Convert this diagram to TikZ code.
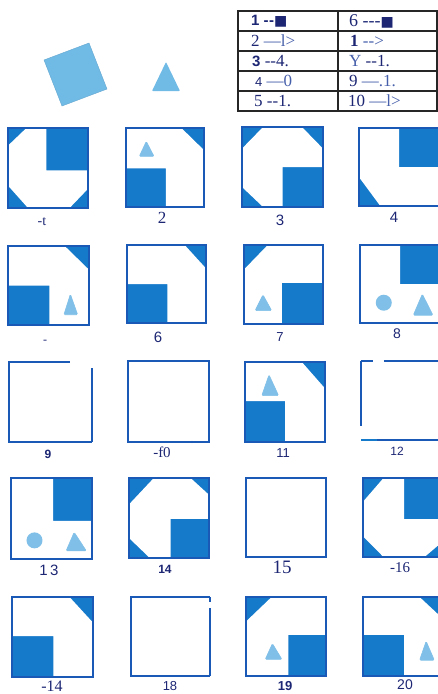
\documentclass[tikz,border=0pt]{standalone}
\usepackage{fontspec}
\setmainfont{Liberation Serif}[Ligatures=TeXOff]
\newfontfamily\sansf{Liberation Sans}[Ligatures=TeXOff]
\newfontfamily\symf{DejaVu Sans}[Ligatures=TeXOff]
\definecolor{pblue}{RGB}{22,122,202}
\definecolor{pedge}{RGB}{26,90,182}
\definecolor{plight}{RGB}{128,192,232}
\definecolor{pbig}{RGB}{112,186,230}
\definecolor{navy}{RGB}{28,38,115}
\definecolor{lnavy}{RGB}{70,95,170}
\begin{document}
\begin{tikzpicture}[x=1pt,y=-1pt,
  lightshape/.style={fill=plight,draw=plight,line width=0.6pt,rounded corners=1.2pt},
  frame/.style={draw=pedge,line width=1.8pt},
  thinframe/.style={draw=pedge,line width=1.2pt},
  lbl/.style={text=navy,inner sep=0pt},
  tcell/.style={text=navy,inner sep=0pt,anchor=west},
  grid/.style={draw=black!85,line width=1.4pt}]
\useasboundingbox (0,0) rectangle (438,694);
\clip (0,0) rectangle (438,694);

% top-left shapes
\fill[pbig,draw=pbig!90!black,line width=0.4pt] (44,60) -- (89,43) -- (107,89) -- (62,106) -- cycle;
\fill[pbig,rounded corners=0.8pt] (166,62) -- (152,91) -- (180,91) -- cycle;

% table
\draw[grid,line width=1.8pt] (238,11) rectangle (437,111);
\draw[grid] (338,11) -- (338,111);
\foreach \yy in {31,51,71,91} \draw[grid] (238,\yy) -- (437,\yy);
\node[tcell] (t1) at (251,21) {\fontsize{15}{15}\selectfont{\sansf\bfseries 1 -\kern0.5pt-}{\symf\fontsize{14}{14}\selectfont ■}};
\node[tcell] (t2) at (251,41) {\fontsize{17}{17}\selectfont 2 \textcolor{lnavy}{—l>}};
\node[tcell] (t3) at (252,61) {\fontsize{17}{17}\selectfont{\sansf\bfseries\fontsize{15}{15}\selectfont 3} --4.};
\node[tcell] (t4) at (255,81) {\fontsize{17}{17}\selectfont{\sansf\fontsize{13}{13}\selectfont 4} \textcolor{lnavy}{—0}};
\node[tcell] (t5) at (254,101) {\fontsize{17}{17}\selectfont 5 --1.};
\node[tcell] (t6) at (349,21) {\fontsize{18}{18}\selectfont 6 ---{\symf\fontsize{14}{14}\selectfont ■}};
\node[tcell] (t7) at (350,41) {\fontsize{17}{17}\selectfont\textbf{1} \textcolor{lnavy}{-->}};
\node[tcell] (t8) at (349,61) {\fontsize{17}{17}\selectfont\textcolor{lnavy}{Y} --1.};
\node[tcell] (t9) at (349,81) {\fontsize{17}{17}\selectfont 9 \textcolor{lnavy}{—.1.}};
\node[tcell] (t10) at (348,101) {\fontsize{17}{17}\selectfont 10 \textcolor{lnavy}{—l>}};

% ---------- row 1
\begin{scope}[shift={(8pt,-128pt)},x=80pt,y=-80pt]
\fill[pblue] (0,0) rectangle (1,1);
\fill[white] (0.23,0) -- (0.48,0) -- (0.48,0.53) -- (1,0.53) -- (1,0.76) -- (0.77,1) -- (0.25,1) -- (0,0.72) -- (0,0.22) -- cycle;
\draw[frame] (0,0) rectangle (1,1);
\end{scope}
\begin{scope}[shift={(126pt,-128pt)},x=78pt,y=-79pt]
\fill[pblue] (0,0) rectangle (1,1);
\fill[white] (0,0) -- (0.71,0) -- (1,0.28) -- (1,1) -- (0.51,1) -- (0.51,0.51) -- (0,0.51) -- cycle;
\filldraw[lightshape] (0.26,0.17) -- (0.17,0.36) -- (0.36,0.36) -- cycle;
\draw[frame] (0,0) rectangle (1,1);
\end{scope}
\begin{scope}[shift={(242pt,-127pt)},x=81pt,y=-80pt]
\fill[pblue] (0,0) rectangle (1,1);
\fill[white] (0.26,0) -- (0.74,0) -- (1,0.27) -- (1,0.5) -- (0.5,0.5) -- (0.5,1) -- (0.26,1) -- (0,0.75) -- (0,0.27) -- cycle;
\draw[frame] (0,0) rectangle (1,1);
\end{scope}
\begin{scope}[shift={(359pt,-128pt)},x=82pt,y=-78pt]
\fill[pblue] (0,0) rectangle (1,1);
\fill[white] (0,0) -- (0.49,0) -- (0.49,0.5) -- (1,0.5) -- (1,1) -- (0.26,1) -- (0,0.63) -- cycle;
\draw[frame] (0,0) rectangle (1,1);
\end{scope}

% ---------- row 2
\begin{scope}[shift={(8pt,-246pt)},x=81pt,y=-79pt]
\fill[pblue] (0,0) rectangle (1,1);
\fill[white] (0,0) -- (0.7,0) -- (1,0.3) -- (1,1) -- (0.51,1) -- (0.51,0.5) -- (0,0.5) -- cycle;
\filldraw[lightshape] (0.77,0.61) -- (0.69,0.87) -- (0.86,0.87) -- cycle;
\draw[frame] (0,0) rectangle (1,1);
\end{scope}
\begin{scope}[shift={(127pt,-245pt)},x=79pt,y=-78pt]
\fill[pblue] (0,0) rectangle (1,1);
\fill[white] (0,0) -- (0.73,0) -- (1,0.3) -- (1,1) -- (0.51,1) -- (0.51,0.5) -- (0,0.5) -- cycle;
\draw[frame] (0,0) rectangle (1,1);
\end{scope}
\begin{scope}[shift={(244pt,-245pt)},x=79pt,y=-79pt]
\fill[pblue] (0,0) rectangle (1,1);
\fill[white] (0.3,0) -- (1,0) -- (1,0.48) -- (0.48,0.48) -- (0.48,1) -- (0,1) -- (0,0.31) -- cycle;
\filldraw[lightshape] (0.24,0.63) -- (0.14,0.83) -- (0.35,0.83) -- cycle;
\draw[frame] (0,0) rectangle (1,1);
\end{scope}
\begin{scope}[shift={(360pt,-245pt)},x=82pt,y=-78pt]
\fill[pblue] (0,0) rectangle (1,1);
\fill[white] (0,0) -- (0.49,0) -- (0.49,0.5) -- (1,0.5) -- (1,1) -- (0,1) -- cycle;
\fill[plight] (0.29,0.74) circle[radius=8pt];
\filldraw[lightshape] (0.76,0.63) -- (0.65,0.9) -- (0.89,0.9) -- cycle;
\draw[frame] (0,0) rectangle (1,1);
\end{scope}

% ---------- row 3
\begin{scope}[shift={(9pt,-362pt)},x=83pt,y=-80pt]
\draw[frame] (0.73,0) -- (0,0) -- (0,1) -- (1,1);
\draw[thinframe] (1,1) -- (1,0.08);
\end{scope}
\begin{scope}[shift={(128pt,-361pt)},x=81pt,y=-81pt]
\draw[thinframe] (0,0) rectangle (1,1);
\fill[pedge] (0.79,1) circle[radius=1.2pt];
\end{scope}
\begin{scope}[shift={(245pt,-362pt)},x=80pt,y=-80pt]
\fill[pblue] (0,0) rectangle (1,1);
\fill[white] (0,0) -- (0.71,0) -- (1,0.33) -- (1,1) -- (0.5,1) -- (0.5,0.49) -- (0,0.49) -- cycle;
\filldraw[lightshape] (0.3,0.16) -- (0.21,0.42) -- (0.42,0.42) -- cycle;
\draw[frame] (0,0) rectangle (1,1);
\end{scope}
\begin{scope}[shift={(361pt,-361pt)},x=82pt,y=-79pt]
\draw[thinframe] (0,0) -- (0.15,0);
\draw[thinframe] (0.28,0) -- (1,0);
\draw[thinframe] (0,0) -- (0,0.82);
\draw[thinframe] (0,1) -- (1,1);
\draw[pblue,line width=2.2pt] (0,1) -- (0.19,1);
\end{scope}

% ---------- row 4
\begin{scope}[shift={(11pt,-478pt)},x=81pt,y=-81pt]
\fill[pblue] (0,0) rectangle (1,1);
\fill[white] (0,0) -- (0.52,0) -- (0.52,0.53) -- (1,0.53) -- (1,1) -- (0,1) -- cycle;
\fill[plight] (0.29,0.77) circle[radius=8pt];
\filldraw[lightshape] (0.78,0.67) -- (0.68,0.9) -- (0.93,0.9) -- cycle;
\draw[frame] (0,0) rectangle (1,1);
\end{scope}
\begin{scope}[shift={(129pt,-478pt)},x=80pt,y=-80pt]
\fill[pblue] (0,0) rectangle (1,1);
\fill[white] (0.31,0) -- (0.77,0) -- (1,0.21) -- (1,0.51) -- (0.52,0.51) -- (0.52,1) -- (0.26,1) -- (0,0.75) -- (0,0.33) -- cycle;
\draw[frame] (0,0) rectangle (1,1);
\end{scope}
\begin{scope}[shift={(246pt,-478pt)},x=80pt,y=-79pt]
\draw[thinframe] (0,0) rectangle (1,1);
\end{scope}
\begin{scope}[shift={(363pt,-478pt)},x=82pt,y=-79pt]
\fill[pblue] (0,0) rectangle (1,1);
\fill[white] (0.25,0) -- (0.5,0) -- (0.5,0.52) -- (1,0.52) -- (1,0.78) -- (0.75,1) -- (0.25,1) -- (0,0.74) -- (0,0.3) -- cycle;
\draw[frame] (0,0) rectangle (1,1);
\end{scope}

% ---------- row 5
\begin{scope}[shift={(12pt,-597pt)},x=81pt,y=-80pt]
\fill[pblue] (0,0) rectangle (1,1);
\fill[white] (0,0) -- (0.71,0) -- (1,0.32) -- (1,1) -- (0.51,1) -- (0.51,0.49) -- (0,0.49) -- cycle;
\draw[frame] (0,0) rectangle (1,1);
\end{scope}
\begin{scope}[shift={(131pt,-597pt)},x=79pt,y=-79pt]
\draw[frame] (1,0) -- (0,0) -- (0,1) -- (1,1);
\draw[thinframe] (1,0) -- (1,0.06);
\draw[thinframe] (1,0.14) -- (1,1);
\end{scope}
\begin{scope}[shift={(246pt,-597pt)},x=80pt,y=-79pt]
\fill[pblue] (0,0) rectangle (1,1);
\fill[white] (0.32,0) -- (1,0) -- (1,0.48) -- (0.53,0.48) -- (0.53,1) -- (0,1) -- (0,0.31) -- cycle;
\filldraw[lightshape] (0.33,0.59) -- (0.24,0.79) -- (0.45,0.79) -- cycle;
\draw[frame] (0,0) rectangle (1,1);
\end{scope}
\begin{scope}[shift={(363pt,-597pt)},x=82pt,y=-79pt]
\fill[pblue] (0,0) rectangle (1,1);
\fill[white] (0,0) -- (0.69,0) -- (1,0.3) -- (1,1) -- (0.5,1) -- (0.5,0.48) -- (0,0.48) -- cycle;
\filldraw[lightshape] (0.77,0.56) -- (0.69,0.8) -- (0.87,0.8) -- cycle;
\draw[frame] (0,0) rectangle (1,1);
\end{scope}

% ---------- labels
\node[lbl] (l1) at (42,222) {\fontsize{14}{14}\selectfont -t};
\node[lbl] (l2) at (162,218) {\fontsize{17}{17}\selectfont 2};
\node[lbl] (l3) at (280,220) {\sansf\fontsize{15}{15}\selectfont 3};
\node[lbl] (l4) at (394,217) {\sansf\fontsize{15}{15}\selectfont 4};
\node[lbl] (l5) at (45,342) {\fontsize{12}{12}\selectfont -};
\node[lbl] (l6) at (158,337) {\sansf\fontsize{15}{15}\selectfont 6};
\node[lbl] (l7) at (280,337) {\sansf\fontsize{13}{13}\selectfont 7};
\node[lbl] (l8) at (397,334) {\sansf\fontsize{14}{14}\selectfont 8};
\node[lbl] (l9) at (48,454) {\sansf\bfseries\fontsize{12}{12}\selectfont 9};
\node[lbl] (l10) at (162,452) {\fontsize{15}{15}\selectfont -f0};
\node[lbl] (l11) at (283,453) {\sansf\fontsize{13}{13}\selectfont 11};
\node[lbl] (l12) at (397,451) {\sansf\fontsize{12}{12}\selectfont 12};
\node[lbl] (l13) at (49,570) {\sansf\fontsize{15}{15}\selectfont 1\,3};
\node[lbl] (l14) at (165,569) {\sansf\bfseries\fontsize{12}{12}\selectfont 14};
\node[lbl] (l15) at (282,567) {\fontsize{19}{19}\selectfont 15};
\node[lbl] (l16) at (400,568) {\fontsize{15}{15}\selectfont -16};
\node[lbl] (l17) at (52,686) {\fontsize{16}{16}\selectfont -14};
\node[lbl] (l18) at (170,686) {\sansf\fontsize{13}{13}\selectfont 18};
\node[lbl] (l19) at (285,686) {\sansf\bfseries\fontsize{13}{13}\selectfont 19};
\node[lbl] (l20) at (405,685) {\sansf\fontsize{14}{14}\selectfont 20};
\end{tikzpicture}
\end{document}
